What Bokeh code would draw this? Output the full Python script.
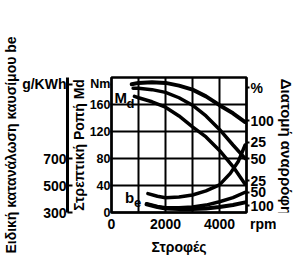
from bokeh.plotting import figure
from bokeh.layouts import row
from bokeh.models import Range1d, LinearAxis, FixedTicker, Label
from bokeh.embed import file_html
from bokeh.resources import INLINE

# ---- data ----
rpm_md100 = [750, 1000, 1500, 2000, 2500, 3000, 3500, 4000, 4500, 4950]
md_100 = [190, 192, 193, 192, 188, 182, 172, 159, 147, 134]

rpm_md50 = [800, 1000, 1500, 2000, 2500, 3000, 3500, 4000, 4500, 4950]
md_50 = [184, 184, 182, 178, 170, 159, 143, 123, 100, 80]

rpm_md25 = [850, 1000, 1500, 2000, 2500, 3000, 3500, 4000, 4500, 4950]
md_25 = [172, 170, 164, 156, 143, 127, 112, 92, 68, 42]

rpm_be25 = [1350, 1700, 2000, 2500, 3000, 3500, 4000, 4400, 4700, 4950]
be_25 = [440, 420, 410, 415, 430, 460, 505, 590, 680, 800]

rpm_be50 = [1300, 1700, 2000, 2500, 3000, 3500, 4000, 4500, 4950]
be_50 = [365, 345, 335, 335, 340, 355, 380, 410, 450]

rpm_be100 = [1300, 1700, 2000, 2500, 3000, 3500, 4000, 4500, 4950]
be_100 = [360, 340, 330, 325, 325, 330, 340, 355, 375]

x_ticks = [0, 2000, 4000, 5000]
x_labels = {5000: "\u00a0" * 9 + "rpm"}
md_ticks = [0, 40, 80, 120, 160, 190]
md_labels = {190: "Nm"}
be_ticks = [300, 500, 700, 1250]
be_labels = {1250: "g/KWh"}
pct_pos = [185, 136, 104, 80, 47, 30, 10]
pct_labels = ["%", "100", "25", "50", "25", "50", "100"]
right_title = "Διατομή αναρρόφησης"

FONT = "Liberation Sans"

p = figure(width=276, height=260, output_backend="svg", toolbar_location=None,
           x_range=Range1d(0, 5000), y_range=Range1d(0, 200),
           min_border_left=0, min_border_right=26, min_border_top=77, min_border_bottom=48)
p.extra_y_ranges = {"be": Range1d(300, 1300)}

p.outline_line_color = "black"
p.outline_line_width = 2.5
p.outline_line_alpha = 1

p.xgrid.ticker = FixedTicker(ticks=[1000, 2000, 3000, 4000])
p.ygrid.ticker = FixedTicker(ticks=[40, 80, 120, 160])
for g in (p.xgrid, p.ygrid):
    g.grid_line_color = "black"
    g.grid_line_width = 2
    g.grid_line_alpha = 1


def style_axis(ax, size="14px", lsize="14px"):
    ax.major_label_text_font = FONT
    ax.major_label_text_font_style = "bold"
    ax.major_label_text_font_size = size
    ax.major_label_text_color = "black"
    ax.axis_label_text_font = FONT
    ax.axis_label_text_font_style = "bold"
    ax.axis_label_text_font_size = lsize
    ax.axis_label_text_color = "black"
    ax.axis_line_color = "black"
    ax.axis_line_width = 2
    ax.major_tick_line_color = "black"
    ax.major_tick_line_width = 2
    ax.minor_tick_line_color = None


# x axis
xa = p.xaxis[0]
xa.ticker = FixedTicker(ticks=x_ticks)
xa.major_label_overrides = x_labels
xa.axis_label = "Στροφές"
style_axis(xa)
xa.major_tick_out = 0
xa.major_tick_in = 0
xa.major_label_standoff = 3
xa.axis_label_standoff = 4

# Md axis (inner left)
ya = p.yaxis[0]
ya.ticker = FixedTicker(ticks=md_ticks)
ya.major_label_overrides = md_labels
ya.axis_label = "Στρεπτική Ροπή Md"
style_axis(ya, size="12.5px")
ya.major_tick_out = 1
ya.major_tick_in = 0
ya.major_label_standoff = 0
ya.axis_label_standoff = 0

# be axis (outer left)
be_ax = LinearAxis(y_range_name="be", ticker=FixedTicker(ticks=be_ticks),
                   major_label_overrides=be_labels,
                   axis_label="Ειδική κατανάλωση καυσίμου be")
style_axis(be_ax)
be_ax.major_tick_out = 0
be_ax.major_tick_in = 5
be_ax.major_label_standoff = 1
be_ax.axis_label_standoff = 0
be_ax.axis_line_width = 3
p.add_layout(be_ax, "left")

# right % axis
ra = LinearAxis(ticker=FixedTicker(ticks=pct_pos),
                major_label_overrides=dict(zip(pct_pos, pct_labels)))
style_axis(ra)
ra.major_tick_out = 3
ra.major_tick_in = 0
ra.major_label_standoff = 1
p.add_layout(ra, "right")

# curves
lw = 3.5
p.line(rpm_md100, md_100, line_color="black", line_width=4, line_cap="round")
p.line(rpm_md50, md_50, line_color="black", line_width=lw, line_cap="round")
p.line(rpm_md25, md_25, line_color="black", line_width=lw, line_cap="round")
p.line(rpm_be25, be_25, y_range_name="be", line_color="black", line_width=lw, line_cap="round")
p.line(rpm_be50, be_50, y_range_name="be", line_color="black", line_width=lw, line_cap="round")
p.line(rpm_be100, be_100, y_range_name="be", line_color="black", line_width=4, line_cap="round")

# in-chart labels
def lab(fig, x, y, t, size, **kw):
    opts = dict(text_baseline="middle", text_align="left")
    opts.update(kw)
    fig.add_layout(Label(x=x, y=y, text=t, text_font=FONT, text_font_style="bold",
                         text_font_size=size, text_color="black", **opts))

lab(p, 110, 170, "M", "15px")
lab(p, 560, 162, "d", "13px")
lab(p, 500, 22, "b", "15px")
lab(p, 830, 15, "e", "13px")

# narrow side panel holding the right-hand title
side = figure(width=22, height=260, output_backend="svg", toolbar_location=None,
              x_range=Range1d(0, 22), y_range=Range1d(0, 260),
              x_axis_location=None, y_axis_location=None,
              min_border_left=0, min_border_right=0, min_border_top=0, min_border_bottom=0)
side.outline_line_color = None
side.xgrid.visible = False
side.ygrid.visible = False
lab(side, 10, 100, right_title, "15px", angle=-1.5708, text_align="center")

open("out.html", "w").write(file_html(row(p, side), INLINE))
